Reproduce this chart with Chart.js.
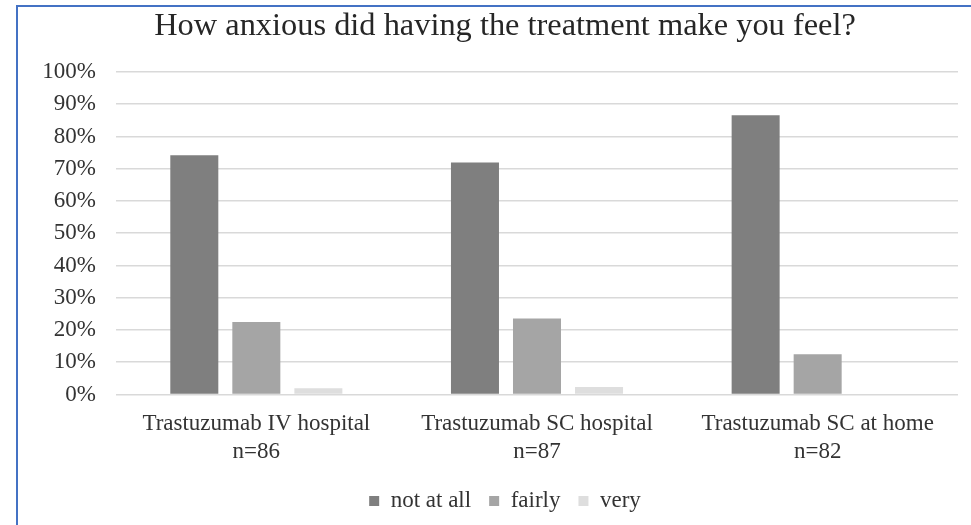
<!DOCTYPE html>
<html>
<head>
<meta charset="utf-8">
<script src="https://cdn.jsdelivr.net/npm/chart.js@4"></script>
<style>
  html, body { margin: 0; padding: 0; background: #ffffff; }
  #wrap { position: relative; width: 971px; height: 525px; overflow: hidden; }
  #frame { position: absolute; left: 16px; top: 5px; right: -4px; bottom: -4px;
           border-left: 2px solid #4472c4; border-top: 2px solid #4472c4; pointer-events: none; }
  canvas { position: absolute; left: 0; top: 0; }
</style>
</head>
<body>
<div id="wrap">
  <canvas id="chart" width="971" height="525"></canvas>
  <div id="frame"></div>
</div>
<script>
// Share of patients per answer, in percent
const categories = [
  ['Trastuzumab IV hospital', 'n=86'],
  ['Trastuzumab SC hospital', 'n=87'],
  ['Trastuzumab SC at home', 'n=82']
];
const notAtAll = [74.2, 71.9, 86.6];
const fairly = [22.5, 23.6, 12.5];
const very = [1.9, 2.3, 0];
const seriesNames = ['not at all', 'fairly', 'very'];
const yTicks = [0, 10, 20, 30, 40, 50, 60, 70, 80, 90, 100];

const serif = 'Liberation Serif, Times New Roman, serif';
const textColor = '#333333';

// The percentage labels are wider than the narrow y-axis box; widen the
// area they are clipped to so "100%" is drawn in full.
const widenTickClip = {
  id: 'widenTickClip',
  afterLayout(chart) {
    const y = chart.scales.y;
    y.left = Math.max(0, y.left - 40);
  }
};

new Chart(document.getElementById('chart'), {
  type: 'bar',
  data: {
    labels: categories,
    datasets: [
      { label: seriesNames[0], data: notAtAll, backgroundColor: '#7f7f7f' },
      { label: seriesNames[1], data: fairly, backgroundColor: '#a5a5a5' },
      { label: seriesNames[2], data: very, backgroundColor: '#dedede' }
    ]
  },
  plugins: [widenTickClip],
  options: {
    responsive: false,
    animation: false,
    events: [],
    categoryPercentage: 0.663,
    barPercentage: 0.774,
    layout: { padding: { left: 52, right: 13, top: 7, bottom: 2.5 } },
    scales: {
      x: {
        grid: { display: false, drawTicks: false },
        border: { display: false },
        ticks: {
          padding: 16,
          color: textColor,
          maxRotation: 0,
          autoSkip: false,
          font: { family: serif, size: 23, lineHeight: 1.2 }
        },
        afterFit(scale) { scale.height = 77; }
      },
      y: {
        min: 0,
        max: 100,
        afterBuildTicks(scale) { scale.ticks = yTicks.map(v => ({ value: v })); },
        grid: { color: '#d9d9d9', lineWidth: 1.5, drawTicks: false },
        border: { display: false },
        ticks: {
          padding: 20,
          color: textColor,
          font: { family: serif, size: 23 },
          callback: v => v + '%'
        },
        afterFit(scale) { scale.width = 64; }
      }
    },
    plugins: {
      title: {
        display: true,
        text: 'How anxious did having the treatment make you feel?',
        color: '#262626',
        font: { family: serif, size: 32.4, weight: 'normal', lineHeight: 1.185 },
        padding: { top: 0, bottom: 26.6 }
      },
      legend: {
        position: 'bottom',
        maxHeight: 52,
        labels: {
          color: textColor,
          boxWidth: 10,
          boxHeight: 10,
          padding: 18,
          font: { family: serif, size: 23 }
        }
      },
      tooltip: { enabled: false }
    }
  }
});
</script>
</body>
</html>
